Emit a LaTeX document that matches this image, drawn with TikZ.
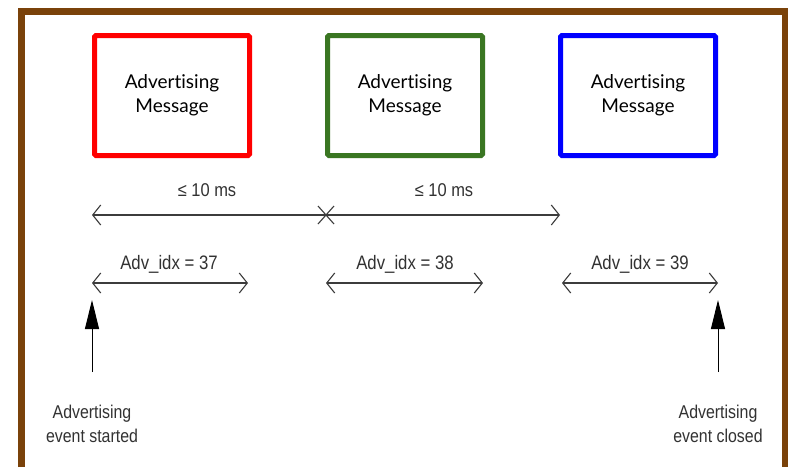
\documentclass[tikz,border=0pt]{standalone}
\usepackage{fontspec}
\setmainfont{Lato}[RawFeature={-liga}]
\newfontfamily\lblfont[FakeStretch=0.86]{Liberation Sans}
\newfontfamily\lblfontw[FakeStretch=0.89]{Liberation Sans}
\usetikzlibrary{arrows.meta}
\definecolor{frameb}{RGB}{122,66,10}
\definecolor{boxgreen}{RGB}{58,118,34}
\definecolor{txtgray}{RGB}{50,50,50}
\definecolor{lngray}{RGB}{60,60,60}
\tikzset{
  msgbox/.style={draw=#1, line width=5pt, rounded corners=1.5pt, minimum width=155pt, minimum height=120pt,
    align=center, font=\fontsize{19}{24}\selectfont, text=black},
  lbl/.style={text=txtgray, font=\lblfont\fontsize{18.5}{24}\selectfont, align=center, inner sep=0pt},
  dimline/.style={draw=lngray, line width=1.1pt, {Straight Barb[length=8pt,width=20pt]}-{Straight Barb[length=8pt,width=20pt]}},
  evarrow/.style={draw=black, line width=1pt, -{Triangle[length=29pt,width=14pt]}},
}
\begin{document}
\begin{tikzpicture}[x=1pt,y=-1pt]
\useasboundingbox (0,0) rectangle (790,467);
\fill[white] (0,0) rectangle (790,467);
% frame
\draw[frameb, line width=6.5pt] (21.5,467) -- (21.5,11.5) -- (785,11.5) -- (785,467);
% message boxes
\node[msgbox=red] (m1) at (172,95.5) {Advertising\\Message};
\node[msgbox=boxgreen] (m2) at (405,95.5) {Advertising\\Message};
\node[msgbox=blue] (m3) at (638,95.5) {Advertising\\Message};
% interval line
\coordinate (t0) at (92,215);
\coordinate (t1) at (326,215);
\coordinate (t2) at (560,215);
\draw[dimline] (t0) -- (t2);
\draw[lngray, line width=1.1pt] ([shift={(-8,-9)}]t1) -- ([shift={(8,9)}]t1);
\draw[lngray, line width=1.1pt] ([shift={(-8,9)}]t1) -- ([shift={(8,-9)}]t1);
\node[lbl, font=\lblfontw\fontsize{18.5}{23}\selectfont] (i1) at (207,190) {≤ 10 ms};
\node[lbl, font=\lblfontw\fontsize{18.5}{23}\selectfont] (i2) at (444,190) {≤ 10 ms};
% adv idx
\coordinate (a1s) at (92,283);
\coordinate (a1e) at (248,283);
\coordinate (a2s) at (326,283);
\coordinate (a2e) at (483,283);
\coordinate (a3s) at (562,283);
\coordinate (a3e) at (718,283);
\draw[dimline] (a1s) -- (a1e);
\draw[dimline] (a2s) -- (a2e);
\draw[dimline] (a3s) -- (a3e);
\node[lbl, font=\lblfont\fontsize{19.5}{23}\selectfont] (x1) at (169,264) {Adv\_idx = 37};
\node[lbl, font=\lblfont\fontsize{19.5}{23}\selectfont] (x2) at (405,264) {Adv\_idx = 38};
\node[lbl, font=\lblfont\fontsize{19.5}{23}\selectfont] (x3) at (640,264) {Adv\_idx = 39};
% events
\node[lbl] (es) at (92,424) {Advertising\\event started};
\node[lbl] (ec) at (718,424) {Advertising\\event closed};
\coordinate (es0) at (92,372);
\coordinate (es1) at (92,300);
\coordinate (ec0) at (718,372);
\coordinate (ec1) at (718,300);
\draw[evarrow] (es0) -- (es1);
\draw[evarrow] (ec0) -- (ec1);
\end{tikzpicture}
\end{document}
